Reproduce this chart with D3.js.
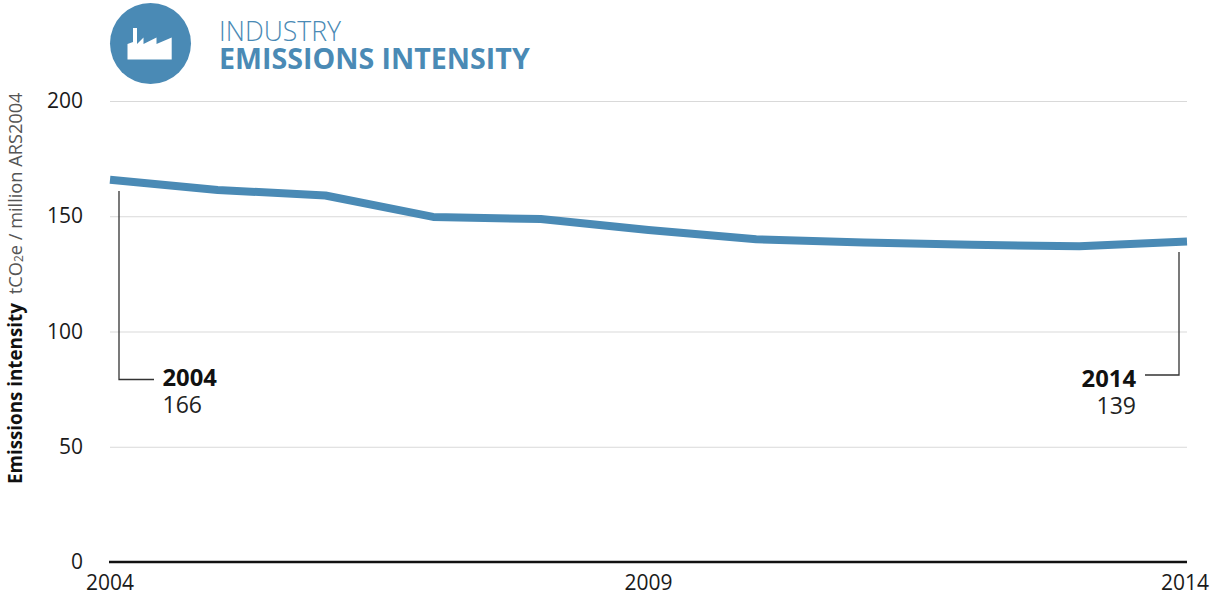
<!DOCTYPE html>
<html><head><meta charset="utf-8">
<script src="https://cdnjs.cloudflare.com/ajax/libs/d3/7.8.5/d3.min.js"></script>
<style>html,body{margin:0;padding:0;background:#fff}svg{display:block}text{font-family:"Open Sans",sans-serif}</style>
</head><body><svg id="c" width="1212" height="593"></svg>
<script>
const years=[2004,2005,2006,2007,2008,2009,2010,2011,2012,2013,2014];
const intensity=[165.8,161.4,159,149.7,148.8,144,140,138.6,137.6,137,139];
const yTicks=[0,50,100,150,200];
const xTicks=[2004,2009,2014];
const titleTop="INDUSTRY", titleBottom="EMISSIONS INTENSITY";
const callouts=[{year:2004,label:"166"},{year:2014,label:"139"}];
const blue="#4a8ab5";
const svg=d3.select("#c");
const x=d3.scaleLinear().domain([2004,2014]).range([110,1187]);
const y=d3.scaleLinear().domain([0,200]).range([562,101]);
svg.append("g").selectAll("line").data(yTicks.filter(d=>d>0)).join("line")
 .attr("x1",110).attr("x2",1187).attr("y1",d=>y(d)+.5).attr("y2",d=>y(d)+.5)
 .attr("stroke","#d9d9d9").attr("stroke-width",1);
svg.append("line").attr("x1",109).attr("x2",1187).attr("y1",y(0)).attr("y2",y(0)).attr("stroke","#111").attr("stroke-width",2.5);
svg.append("g").selectAll("text").data(yTicks).join("text")
 .attr("x",83).attr("y",d=>y(d)+7).attr("text-anchor","end").attr("font-size",21).attr("fill","#1a1a1a").text(d=>d);
svg.append("g").selectAll("text").data(xTicks).join("text")
 .attr("x",d=>x(d)).attr("dx",d=>d===2014?-2:0).attr("y",589.5).attr("text-anchor","middle").attr("font-size",21).attr("fill","#1a1a1a").text(d=>d);
svg.append("path").datum(years.map((d,i)=>[d,intensity[i]]))
 .attr("d",d3.line().x(d=>x(d[0])).y(d=>y(d[1])))
 .attr("fill","none").attr("stroke",blue).attr("stroke-width",8).attr("stroke-linejoin","round");
const cc="#333";
svg.append("path").attr("fill","none").attr("stroke",cc).attr("stroke-width",1.3)
 .attr("d",`M${x(2004)+9} 191V379.5H154`);
svg.append("path").attr("fill","none").attr("stroke",cc).attr("stroke-width",1.3)
 .attr("d",`M${x(2014)-8} 252V375H1145`);
svg.append("text").attr("x",162.5).attr("y",386).attr("font-size",23.8).attr("font-weight",700).attr("fill","#111").text(callouts[0].year);
svg.append("text").attr("x",162.5).attr("y",413).attr("font-size",23).attr("fill","#222").text(callouts[0].label);
svg.append("text").attr("x",1136).attr("y",387).attr("text-anchor","end").attr("font-size",23.8).attr("font-weight",700).attr("fill","#111").text(callouts[1].year);
svg.append("text").attr("x",1136).attr("y",414).attr("text-anchor","end").attr("font-size",23).attr("fill","#222").text(callouts[1].label);
const t=svg.append("text").attr("transform","translate(22,484) rotate(-90)").attr("font-size",18.2).attr("fill","#555");
t.append("tspan").attr("font-weight",700).attr("font-size",18.8).attr("fill","#111").text("Emissions intensity");
t.append("tspan").attr("dx",9).text("tCO");
t.append("tspan").attr("font-size",12).attr("dy",1).text("2");
t.append("tspan").attr("dy",-1).text("e / million ARS2004");
svg.append("circle").attr("cx",150.5).attr("cy",43.5).attr("r",40.5).attr("fill",blue);
svg.append("path").attr("fill","#fff").attr("d","M127.5 59.5V44L133 42V28H137V44L143.5 37.5V44L156.5 37.5V44L171.7 37.5V59.5Z");
svg.append("text").attr("x",219).attr("y",41).attr("font-size",26.6).attr("font-weight",300).attr("fill",blue).text(titleTop);
svg.append("text").attr("x",219).attr("y",69).attr("font-size",28.6).attr("font-weight",700).attr("fill",blue).text(titleBottom);
</script></body></html>
